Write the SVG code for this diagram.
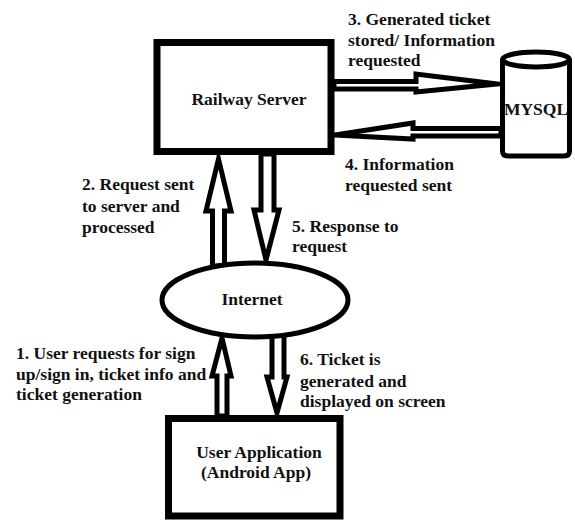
<svg xmlns="http://www.w3.org/2000/svg" width="575" height="520" viewBox="0 0 575 520">
  <style>
    .box { fill: #fff; stroke: #000; stroke-width: 7; }
    .thin { fill: #fff; stroke: #000; stroke-width: 5; }
    .arrow { fill: #fff; stroke: #000; stroke-width: 5; stroke-linejoin: miter; stroke-miterlimit: 10; }
    text { font-family: "Liberation Serif", "Times New Roman", serif; font-weight: bold; font-size: 17.5px; fill: #111; }
    .c { text-anchor: middle; }
  </style>
  <rect width="575" height="520" fill="#fff"/>

  <!-- block arrows between the components -->
  <g id="connectors">
    <!-- Internet to Railway Server -->
    <polygon class="arrow" points="218.5,159 231,211 224.5,211 224.5,266 212.5,266 212.5,211 206,211"/>
    <!-- Railway Server to Internet -->
    <polygon class="arrow" points="261,154 274,154 274,210 279,210 266,260 254,210 261,210"/>
    <!-- User Application to Internet -->
    <polygon class="arrow" points="222,338 231,376 227,376 227,416 217,416 217,376 212,376"/>
    <!-- Internet to User Application -->
    <polygon class="arrow" points="272,333 284,333 284,377 287,377 277,413 267,377 272,377"/>
    <!-- Railway Server to MYSQL -->
    <polygon class="arrow" points="334,81.5 416,81.5 416,74 497,84 416,92 416,89 334,89"/>
    <!-- MYSQL to Railway Server -->
    <polygon class="arrow" points="335,135 413,123 413,128.5 501,128.5 501,136 413,136 413,139"/>
  </g>

  <g id="railway-server">
    <rect class="box" x="157" y="42.5" width="174" height="109"/>
    <text class="c" x="249" y="105">Railway Server</text>
  </g>

  <g id="mysql">
    <path class="thin" d="M502.5,59.5 V151 Q502.5,156 508,156 H564 Q569.5,156 569.5,151 V59.5"/>
    <ellipse class="thin" cx="536" cy="59.5" rx="33.5" ry="7.5"/>
    <text class="c" x="536" y="115">MYSQL</text>
  </g>

  <g id="internet">
    <ellipse class="thin" cx="255" cy="300" rx="93" ry="37"/>
    <text class="c" x="252" y="305">Internet</text>
  </g>

  <g id="user-application">
    <rect class="box" x="168.5" y="418.5" width="171.5" height="97.5"/>
    <text class="c" x="259" y="458">User Application</text>
    <text class="c" x="256" y="478">(Android App)</text>
  </g>

  <!-- step labels -->
  <g id="labels">
    <text x="348" y="25">3. Generated ticket</text>
    <text x="348" y="46">stored/ Information</text>
    <text x="348" y="66">requested</text>

    <text x="345" y="170">4. Information</text>
    <text x="345" y="191">requested sent</text>

    <text x="82" y="190">2. Request sent</text>
    <text x="82" y="212">to server and</text>
    <text x="82" y="233">processed</text>

    <text x="292" y="232">5. Response to</text>
    <text x="292" y="252">request</text>

    <text x="16" y="359">1. User requests for sign</text>
    <text x="16" y="380">up/sign in, ticket info and</text>
    <text x="16" y="400">ticket generation</text>

    <text x="300" y="365">6. Ticket is</text>
    <text x="300" y="387">generated and</text>
    <text x="300" y="407">displayed on screen</text>
  </g>
</svg>
